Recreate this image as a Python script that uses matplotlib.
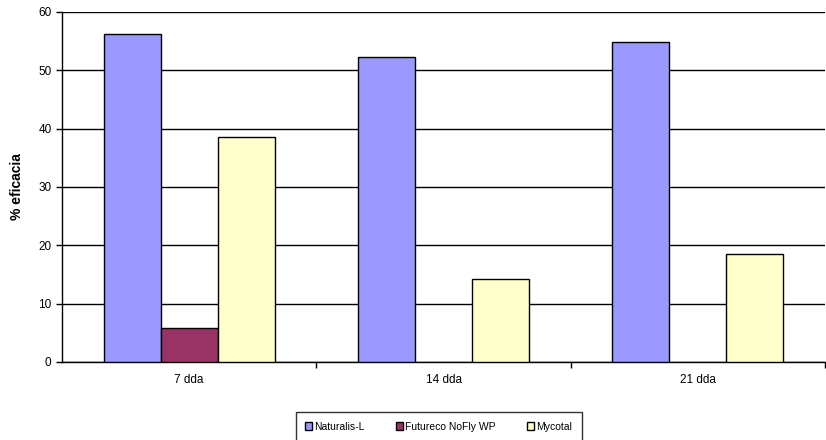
import matplotlib.pyplot as plt
import numpy as np

categories = ["7 dda", "14 dda", "21 dda"]
series = ["Naturalis-L", "Futureco NoFly WP", "Mycotal"]
naturalis = [56.2, 52.3, 54.9]
futureco = [5.8, 0, 0]
mycotal = [38.6, 14.2, 18.5]
colors = ["#9999FF", "#993366", "#FFFFCC"]

plt.rcParams["font.family"] = ["Liberation Sans", "DejaVu Sans"]

fig = plt.figure(figsize=(8.26, 4.4), dpi=100)
ax = fig.add_axes([0.075, 0.1773, 0.924, 0.7955])

x = np.arange(len(categories))
w = 0.224
for j, (name, vals) in enumerate(zip(series, [naturalis, futureco, mycotal])):
    xs = x + (j - 1) * w
    # skip zero-height bars so no flat outline is drawn
    keep = [i for i, v in enumerate(vals) if v > 0]
    ax.bar(xs[keep], np.array(vals)[keep], width=w, color=colors[j],
           edgecolor="black", linewidth=1.0, label=name, zorder=3)

ax.set_xlim(-0.5, 2.5)
ax.set_ylim(0, 60)
ax.set_yticks(range(0, 61, 10))
ax.yaxis.grid(True, color="black", linewidth=1.0, zorder=0)
ax.set_axisbelow(True)

ax.set_xticks(x)
ax.set_xticklabels(categories, fontsize=8.5)
ax.tick_params(axis="x", length=0, pad=9)
ax.set_xticks([0.5, 1.5, 2.5], minor=True)
ax.tick_params(axis="x", which="minor", length=4, width=1, direction="out")
ax.tick_params(axis="y", labelsize=8.5, length=4, width=1, direction="out")

for s in ["top", "right"]:
    ax.spines[s].set_visible(False)
ax.spines["left"].set_linewidth(1.0)
ax.spines["bottom"].set_linewidth(1.0)

ax.set_ylabel("% eficacia", fontsize=10, fontweight="bold", labelpad=10)

leg = fig.legend(loc="upper center", bbox_to_anchor=(0.531, 0.063), ncol=3,
                 fontsize=7.5, frameon=True, fancybox=False, edgecolor="black",
                 handlelength=0.7, handleheight=0.7, handletextpad=0.2,
                 columnspacing=3.0, borderpad=0.9, borderaxespad=0)
leg.get_frame().set_linewidth(1.0)

fig.savefig("out.png", dpi=100)
